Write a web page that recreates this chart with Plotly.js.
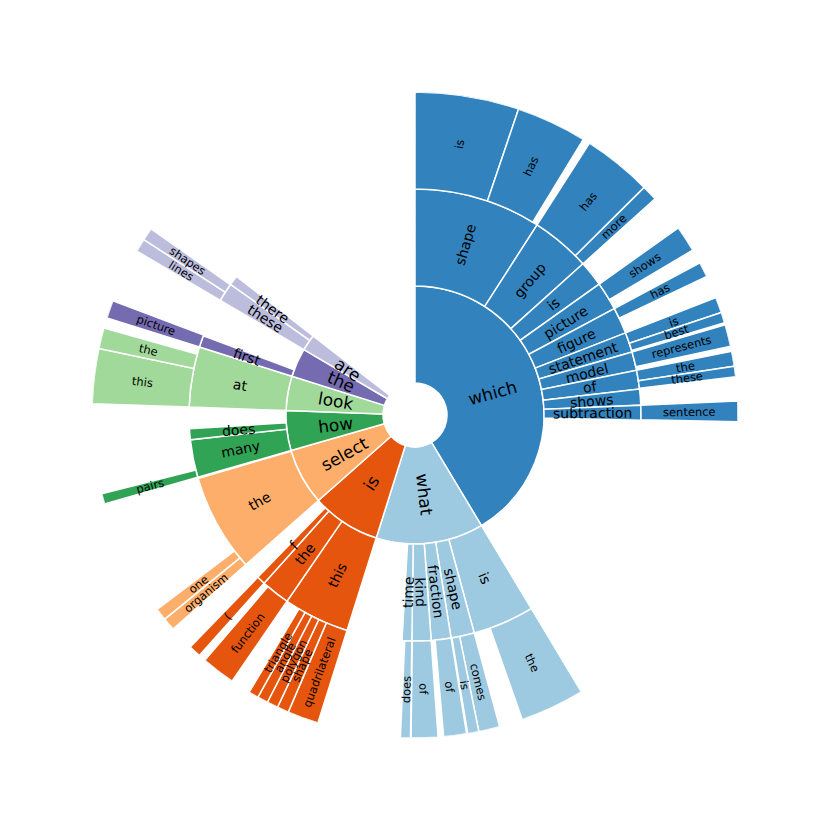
<!DOCTYPE html>
<html>
<head>
<meta charset="utf-8">
<script src="https://cdn.plot.ly/plotly-3.0.1.min.js"></script>
<style>
  html, body { margin: 0; padding: 0; background: #fff; }
  #chart { width: 830px; height: 830px; }
</style>
</head>
<body>
<div id="chart"></div>
<script>
// question counts; the full circle stands for TOTAL questions
const TOTAL = 3600;

// first word
const level1Words = ['which', 'what', 'is', 'select', 'how', 'look', 'the', 'are'];
const level1Counts = [1490, 485, 310, 255, 180, 155, 130, 73];

// second word (parent = index in level1)
const level2Words = ['shape', 'group', 'is', 'picture', 'figure', 'statement', 'model', 'of', 'shows', 'subtraction',
                     'is', 'shape', 'fraction', 'kind', 'time',
                     'this', 'the', 'f',
                     'the',
                     'many', 'does',
                     'at',
                     'first',
                     'these', 'there'];
const level2Parents = [0, 0, 0, 0, 0, 0, 0, 0, 0, 0,
                       1, 1, 1, 1, 1,
                       2, 2, 2,
                       3,
                       4, 4,
                       5,
                       6,
                       7, 7];
const level2Counts = [327, 153, 66, 73, 68, 51, 48, 48, 41, 38,
                      158, 60, 51, 49, 25,
                      170, 74, 22,
                      252,
                      97, 28,
                      155,
                      30,
                      48, 25];

// third word (parent = index in level2)
const level3Words = ['is', 'has', 'has', 'more', 'shows', 'has', 'is', 'best', 'represents', 'the', 'these', 'sentence',
                     'the', 'comes', 'is', 'of', 'of', 'does',
                     'quadrilateral', 'shape', 'polygon', 'angle', 'triangle', 'function', '(',
                     'organism', 'one',
                     'pairs',
                     'this', 'the',
                     'picture',
                     'lines', 'shapes'];
const level3Parents = [0, 0, 1, 1, 3, 4, 5, 5, 6, 7, 7, 9,
                       10, 11, 11, 12, 13, 14,
                       15, 15, 15, 15, 15, 16, 17,
                       18, 18,
                       19,
                       21, 21,
                       22,
                       23, 23];
const level3Counts = [187, 127, 125, 28, 47, 27, 28, 19, 39, 27, 19, 37,
                      116, 38, 20, 41, 48, 18,
                      56, 21, 20, 19, 18, 61, 22,
                      23, 22,
                      19,
                      99, 37,
                      32,
                      24, 23];

const palette = ['#3182bd', '#9ecae1', '#e6550d', '#fdae6b', '#31a354', '#a1d99b', '#756bb1', '#bcbddc'];

const HOLE = 0.33, RING = 1;
const R_MAX = HOLE + 3 * RING;
const SIZE = 830;
const R_PX = 323;
const fontSizes = [17, 14, 11.5];

// start angle of every bar: children sit side by side from the parent's start
function starts(counts, parents, parentStart) {
    let acc = 0;
    const next = parentStart ? parentStart.slice() : null;
    return counts.map((c, i) => {
        const w = c / TOTAL * 360;
        let s;
        if (parents) {
            s = next[parents[i]];
            next[parents[i]] += w;
        } else {
            s = acc;
            acc += w;
        }
        return s;
    });
}

const s1 = starts(level1Counts);
const s2 = starts(level2Counts, level2Parents, s1);
const s3 = starts(level3Counts, level3Parents, s2);

const root2 = level2Parents;
const root3 = level3Parents.map(p => level2Parents[p]);

const levels = [
    { words: level1Words, counts: level1Counts, st: s1, root: level1Words.map((w, i) => i) },
    { words: level2Words, counts: level2Counts, st: s2, root: root2 },
    { words: level3Words, counts: level3Counts, st: s3, root: root3 }
];

let data = [];
let annotations = [];

levels.forEach((lv, k) => {
    const widths = lv.counts.map(c => c / TOTAL * 360);
    const thetas = lv.st.map((s, i) => s + widths[i] / 2);
    const base = HOLE + k * RING;

    data.push({
        type: 'barpolar',
        theta: thetas,
        width: widths,
        r: lv.counts.map(() => RING),
        base: lv.counts.map(() => base),
        marker: {
            color: lv.root.map(j => palette[j]),
            line: { color: 'white', width: 1.5 }
        },
        hoverinfo: 'skip'
    });

    // labels in the middle of each bar, turned along the radius
    const rPx = (base + RING / 2) / R_MAX * R_PX;
    thetas.forEach((t, i) => {
        const rad = t * Math.PI / 180;
        let a = 90 - t;
        while (a > 180) a -= 360;
        while (a <= -180) a += 360;
        if (a > 90) a -= 180;
        if (a <= -90) a += 180;
        annotations.push({
            x: 0.5 + rPx * Math.sin(rad) / SIZE,
            y: 0.5 + rPx * Math.cos(rad) / SIZE,
            xref: 'paper',
            yref: 'paper',
            text: lv.words[i],
            showarrow: false,
            textangle: -a,
            xanchor: 'center',
            yanchor: 'middle',
            font: { family: 'DejaVu Sans', size: fontSizes[k], color: 'black' }
        });
    });
});

let layout = {
    width: SIZE,
    height: SIZE,
    margin: { l: 0, r: 0, t: 0, b: 0 },
    paper_bgcolor: 'white',
    showlegend: false,
    polar: {
        domain: { x: [0.5 - R_PX / SIZE, 0.5 + R_PX / SIZE], y: [0.5 - R_PX / SIZE, 0.5 + R_PX / SIZE] },
        bgcolor: 'white',
        barmode: 'overlay',
        bargap: 0,
        radialaxis: { range: [0, R_MAX], visible: false },
        angularaxis: { rotation: 90, direction: 'clockwise', visible: false }
    },
    annotations: annotations
};

Plotly.newPlot('chart', data, layout, { displayModeBar: false, staticPlot: true });
</script>
</body>
</html>
